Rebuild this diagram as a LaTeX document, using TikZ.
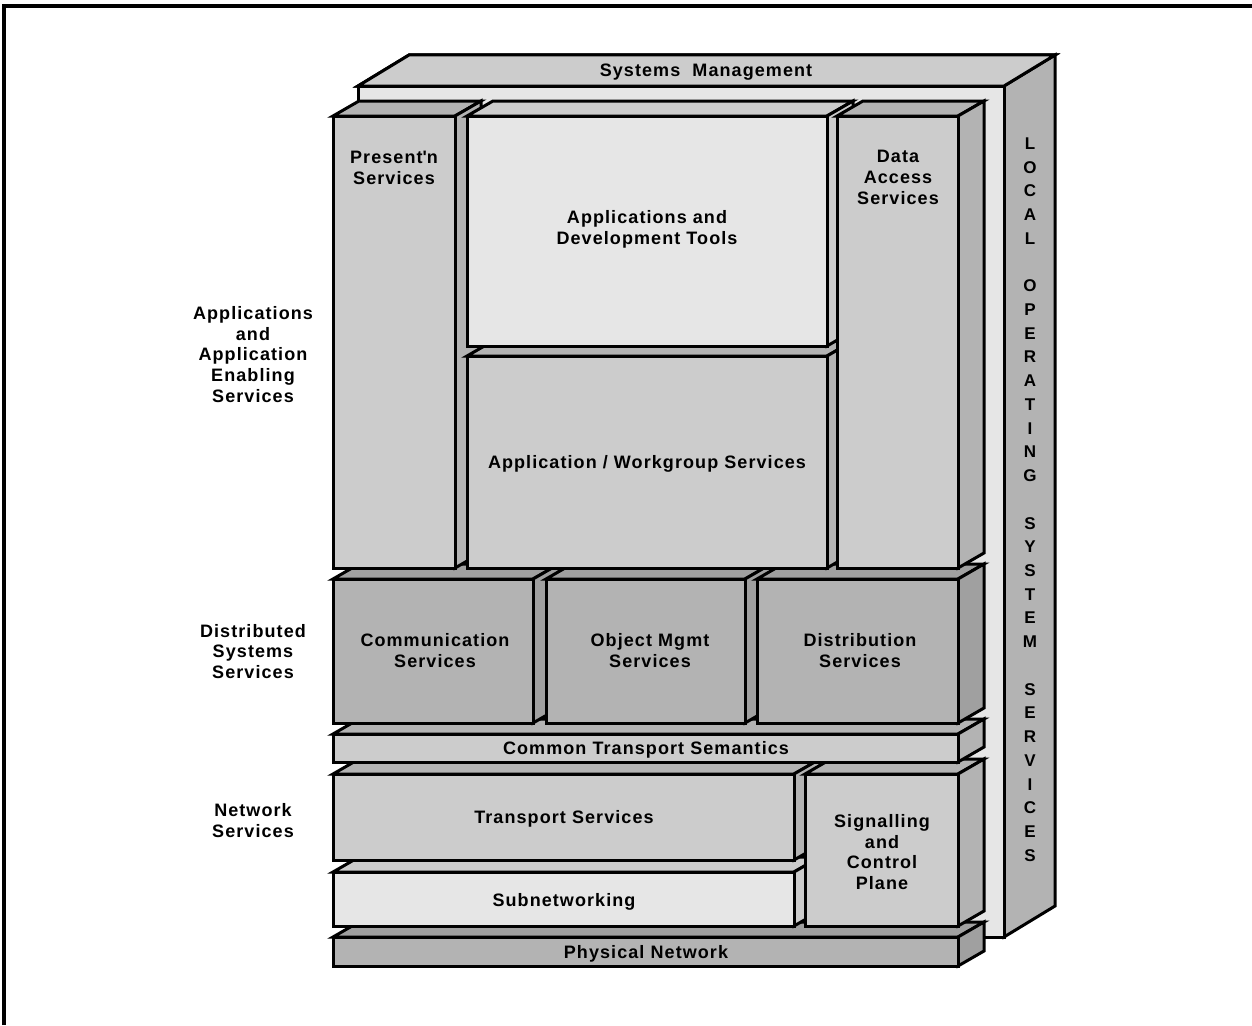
\documentclass[tikz,border=0pt]{standalone}
\usepackage{fontspec}
\setmainfont{Liberation Sans}[LetterSpace=6]
\definecolor{gA}{HTML}{E6E6E6}
\definecolor{gB}{HTML}{CCCCCC}
\definecolor{gC}{HTML}{B3B3B3}
\definecolor{gD}{HTML}{A0A0A0}
% #1 x1, #2 y1, #3 x2, #4 y2, #5 dx, #6 dy(up), #7 front, #8 side
\newcommand\slab[8]{%
  \filldraw[fill=#8] (#1,#2) -- ({#1+#5},{#2-#6}) -- ({#3+#5},{#2-#6}) -- (#3,#2) -- cycle;
  \filldraw[fill=#8] (#3,#2) -- ({#3+#5},{#2-#6}) -- ({#3+#5},{#4-#6}) -- (#3,#4) -- cycle;
  \filldraw[fill=#7] (#1,#2) rectangle (#3,#4);
}
\begin{document}
\begin{tikzpicture}[x=1pt,y=-1pt,line width=3pt,line join=miter,
  lbl/.style={align=center,inner sep=0pt,font=\fontsize{18}{20.8}\selectfont\bfseries}]
\useasboundingbox (0,0) rectangle (1252,1025);
\draw[line width=3.5pt] (4,1025) -- (4,6) -- (1252,6);
% back box
\slab{358}{86}{1004}{937}{51}{31}{gA}{gC}
\filldraw[fill=gB] (358,86) -- (409,55) -- (1055,55) -- (1004,86) -- cycle;
% network
\slab{333}{937}{958}{966}{26}{15}{gC}{gD}
\slab{333}{872}{794}{926}{26}{15}{gA}{gB}
\slab{333}{774}{794}{860}{26}{15}{gB}{gC}
\slab{805}{774}{958}{926}{26}{15}{gB}{gC}
\slab{333}{734}{958}{762}{26}{15}{gB}{gC}
% distributed
\slab{333}{579}{533}{723}{26}{15}{gC}{gD}
\slab{546}{579}{745}{723}{26}{15}{gC}{gD}
\slab{757}{579}{958}{723}{26}{15}{gC}{gD}
% applications
\slab{333}{116}{455}{568}{26}{15}{gB}{gC}
\slab{467}{356}{827}{568}{26}{15}{gB}{gC}
\slab{467}{116}{827}{346}{26}{15}{gA}{gB}
\slab{837}{116}{958}{568}{26}{15}{gB}{gC}
% texts
\node[lbl] (sm) at (706,72) {Systems\ \ Management};
\node[lbl] (pres) at (394,167.5) {Present\textquotesingle n\\Services};
\node[lbl] (adt) at (647,229) {Applications and\\Development Tools};
\node[lbl] (awg) at (647,464) {Application / Workgroup Services};
\node[lbl] (das) at (898,177.5) {Data\\Access\\Services};
\node[lbl] (com) at (435,650.5) {Communication\\Services};
\node[lbl] (obj) at (650,650.5) {Object Mgmt\\Services};
\node[lbl] (dis) at (860,650.5) {Distribution\\Services};
\node[lbl] (cts) at (646,750) {Common Transport Semantics};
\node[lbl] (trs) at (564,819) {Transport Services};
\node[lbl] (sub) at (564,902) {Subnetworking};
\node[lbl] (sig) at (882,852) {Signalling\\and\\Control\\Plane};
\node[lbl] (phy) at (646,954) {Physical Network};
\node[lbl] (appl) at (253,354.5) {Applications\\and\\Application\\Enabling\\Services};
\node[lbl] (dss) at (253,651.5) {Distributed\\Systems\\Services};
\node[lbl] (nws) at (253,820.5) {Network\\Services};
\node[lbl,font=\fontsize{17}{23.73}\selectfont\bfseries] (loss) at (1030,499.5)
 {L\\O\\C\\A\\L\\[23.73pt]O\\P\\E\\R\\A\\T\\I\\N\\G\\[23.73pt]S\\Y\\S\\T\\E\\M\\[23.73pt]S\\E\\R\\V\\I\\C\\E\\S};
\end{tikzpicture}
\end{document}
